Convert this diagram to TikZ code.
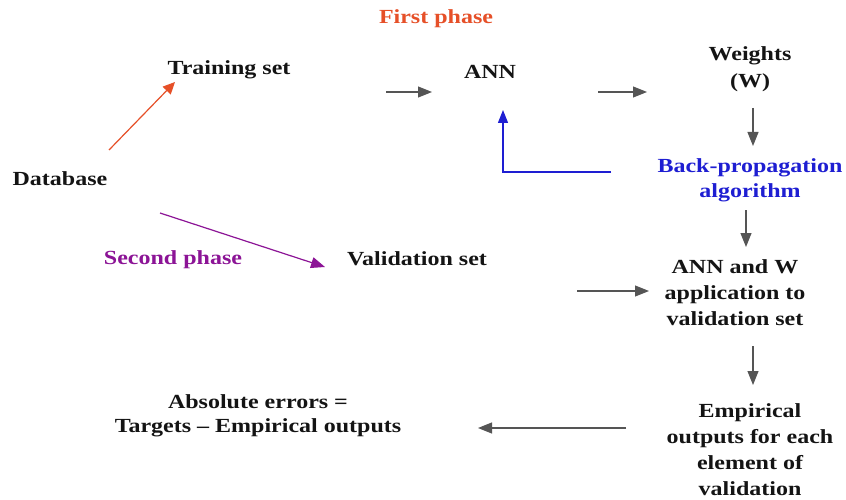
\documentclass[tikz,border=0pt]{standalone}
\usepackage{fontspec}
\setmainfont{Liberation Serif}[FakeStretch=1.2]
\usetikzlibrary{arrows.meta}
\definecolor{txt}{RGB}{20,20,20}
\definecolor{gr}{RGB}{85,85,85}
\definecolor{phaseone}{RGB}{230,80,40}
\definecolor{bpblue}{RGB}{30,30,210}
\definecolor{phasetwo}{RGB}{140,20,150}
\tikzset{
  lbl/.style={font=\fontsize{20}{26}\selectfont\bfseries, text=txt, align=center, inner sep=0pt},
  garrow/.style={draw=gr, line width=1.1pt, -{Triangle[length=14pt,width=11pt]}},
}
\begin{document}
\begin{tikzpicture}[x=1pt,y=-1pt]
\useasboundingbox (0,0) rectangle (846,500);
\fill[white] (0,0) rectangle (846,500);
\node[lbl, text=phaseone] (p1) at (436,19) {First phase};
\node[lbl] (train) at (229,70) {Training set};
\node[lbl] (ann) at (490,72) {ANN};
\node[lbl, font=\fontsize{20}{27}\selectfont\bfseries] (w) at (750,69) {Weights\\(W)};
\node[lbl, text=bpblue, font=\fontsize{20}{25}\selectfont\bfseries] (bp) at (750,180) {Back-propagation\\algorithm};
\node[lbl] (db) at (60,179) {Database};
\node[lbl, text=phasetwo] (p2) at (173,260) {Second phase};
\node[lbl] (val) at (417,259) {Validation set};
\node[lbl] (aw) at (735,293) {ANN and W\\application to\\validation set};
\node[lbl, font=\fontsize{20}{24}\selectfont\bfseries] (abs) at (258,416) {Absolute errors =\\Targets -- Empirical outputs};
\node[lbl] (emp) at (750,450) {Empirical\\outputs for each\\element of\\validation};
% connector end points
\coordinate (r1) at (109,150); \coordinate (r2) at (175,82);
\coordinate (t1) at (386,92); \coordinate (t2) at (432,92);
\coordinate (a1) at (598,92); \coordinate (a2) at (647,92);
\coordinate (w1) at (753,108); \coordinate (w2) at (753,146);
\coordinate (b1) at (611,172); \coordinate (bc) at (503,172); \coordinate (b2) at (503,110);
\coordinate (c1) at (746,210); \coordinate (c2) at (746,247);
\coordinate (s1) at (160,213); \coordinate (s2) at (325,267);
\coordinate (v1) at (577,291); \coordinate (v2) at (649,291);
\coordinate (e1) at (753,346); \coordinate (e2) at (753,385);
\coordinate (x1) at (626,428); \coordinate (x2) at (478,428);
\draw[line width=1.2pt, draw=phaseone, -{Triangle[length=12pt,width=11pt]}] (r1) -- (r2);
\draw[garrow] (t1) -- (t2);
\draw[garrow] (a1) -- (a2);
\draw[garrow] (w1) -- (w2);
\draw[line width=1.2pt, draw=bpblue, -{Triangle[length=13pt,width=10pt]}] (b1) -- (bc) -- (b2);
\draw[garrow] (c1) -- (c2);
\draw[line width=1.2pt, draw=phasetwo, -{Triangle[length=14pt,width=11pt]}] (s1) -- (s2);
\draw[garrow] (v1) -- (v2);
\draw[garrow] (e1) -- (e2);
\draw[garrow] (x1) -- (x2);
\end{tikzpicture}
\end{document}
